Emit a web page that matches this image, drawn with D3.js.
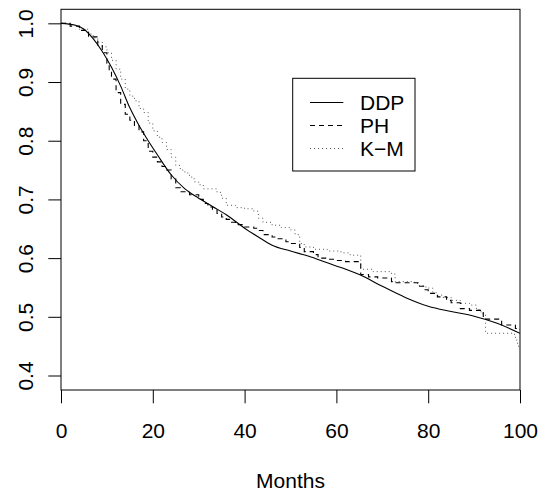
<!DOCTYPE html>
<html>
<head>
<meta charset="utf-8">
<script src="https://cdn.jsdelivr.net/npm/d3@7"></script>
<style>
  html, body { margin: 0; padding: 0; background: #fff; }
  svg { display: block; font-family: "Liberation Sans", Arial, Helvetica, sans-serif; }
</style>
</head>
<body>
<svg id="chart" width="541" height="496"></svg>
<script>
// ---- data ----
const xTicks = [0, 20, 40, 60, 80, 100];
const yTicks = [0.4, 0.5, 0.6, 0.7, 0.8, 0.9, 1.0];
const seriesNames = ["DDP", "PH", "K\u2212M"];

// DDP smooth curve (months, survival)
const ddpMonths = [0, 3, 5, 7, 9, 11, 13, 15, 17, 19, 21, 24, 27, 30, 33, 36, 40, 43, 46, 50, 54, 58, 61, 65, 70, 75, 80, 85, 90, 95, 100];
const ddpSurv   = [1.0, 0.997, 0.99, 0.974, 0.952, 0.925, 0.893, 0.856, 0.826, 0.800, 0.776, 0.742, 0.718, 0.702, 0.688, 0.674, 0.651, 0.636, 0.622, 0.612, 0.603, 0.592, 0.584, 0.572, 0.552, 0.533, 0.518, 0.509, 0.501, 0.489, 0.472];

// PH step function
const phMonths = [0, 2, 4, 6, 8, 9, 10, 10.5, 11, 12, 13, 14, 15, 16, 17, 18, 19, 20, 21, 22, 23, 24, 25, 26, 28, 30, 31, 32, 33, 34, 35, 36, 37, 38, 40, 42, 43, 44, 46, 47, 49, 50, 52, 53, 55, 56, 58, 60, 62, 65.3, 67, 69, 72, 73, 78, 79, 80, 82, 84, 85, 87, 89, 92, 96, 99, 100];
const phSurv   = [1.0, 0.995, 0.988, 0.977, 0.962, 0.950, 0.932, 0.918, 0.905, 0.882, 0.862, 0.845, 0.835, 0.826, 0.815, 0.800, 0.782, 0.772, 0.764, 0.756, 0.750, 0.735, 0.720, 0.713, 0.708, 0.700, 0.693, 0.687, 0.682, 0.676, 0.670, 0.666, 0.661, 0.657, 0.653, 0.651, 0.647, 0.640, 0.636, 0.633, 0.628, 0.625, 0.618, 0.611, 0.606, 0.600, 0.598, 0.596, 0.594, 0.572, 0.568, 0.566, 0.560, 0.558, 0.552, 0.546, 0.540, 0.534, 0.528, 0.524, 0.514, 0.511, 0.496, 0.486, 0.480, 0.478];

// Kaplan-Meier step function
const kmMonths = [0, 2, 4, 6, 7, 8, 9, 10, 11, 12, 13, 14, 15, 16, 17, 18, 19, 20, 21, 22, 23, 24, 25, 26, 27, 28, 29, 30, 31, 34, 35, 36, 38, 40, 42, 43, 44, 46, 48, 50, 51, 52, 53, 55, 58, 61, 63, 65.3, 68, 72, 72.8, 77, 78, 79.5, 81, 82, 83, 85, 87, 89, 90.5, 91.5, 92.5, 98.8, 99.3, 99.7, 100];
const kmSurv   = [1.0, 0.996, 0.990, 0.982, 0.975, 0.968, 0.960, 0.950, 0.937, 0.922, 0.905, 0.888, 0.876, 0.868, 0.855, 0.848, 0.830, 0.817, 0.806, 0.797, 0.785, 0.772, 0.758, 0.750, 0.745, 0.738, 0.730, 0.725, 0.718, 0.712, 0.702, 0.690, 0.686, 0.684, 0.680, 0.668, 0.661, 0.656, 0.652, 0.648, 0.640, 0.625, 0.619, 0.615, 0.612, 0.609, 0.605, 0.581, 0.577, 0.573, 0.560, 0.557, 0.553, 0.549, 0.541, 0.537, 0.533, 0.528, 0.523, 0.520, 0.512, 0.505, 0.472, 0.465, 0.455, 0.447, 0.447];

// ---- layout ----
const plot = { left: 61, right: 520, top: 9.3, bottom: 390 };
const yDomain = [0.3753, 1.0239];
const fontSize = 21;

const svg = d3.select("#chart");
const x = d3.scaleLinear().domain([0, 100]).range([plot.left, plot.right]);
const y = d3.scaleLinear().domain(yDomain).range([plot.bottom, plot.top]);

const zip = (a, b) => a.map((v, i) => [v, b[i]]);

const smooth = d3.line().x(d => x(d[0])).y(d => y(d[1])).curve(d3.curveMonotoneX);
const step = d3.line().x(d => x(d[0])).y(d => y(d[1])).curve(d3.curveStepAfter);

svg.append("clipPath").attr("id", "clip").append("rect")
  .attr("x", plot.left).attr("y", plot.top)
  .attr("width", plot.right - plot.left).attr("height", plot.bottom - plot.top);

const g = svg.append("g").attr("clip-path", "url(#clip)");
g.append("path").attr("d", step(zip(kmMonths, kmSurv)))
  .attr("fill", "none").attr("stroke", "#555").attr("stroke-width", 1)
  .attr("stroke-dasharray", "1,3");
g.append("path").attr("d", step(zip(phMonths, phSurv)))
  .attr("fill", "none").attr("stroke", "#000").attr("stroke-width", 1.1)
  .attr("stroke-dasharray", "5,4");
g.append("path").attr("d", smooth(zip(ddpMonths, ddpSurv)))
  .attr("fill", "none").attr("stroke", "#000").attr("stroke-width", 1.1);

// box
svg.append("rect")
  .attr("x", plot.left).attr("y", plot.top)
  .attr("width", plot.right - plot.left).attr("height", plot.bottom - plot.top)
  .attr("fill", "none").attr("stroke", "#000").attr("stroke-width", 1);

// x axis
const xAxis = svg.append("g").attr("transform", `translate(0,${plot.bottom})`)
  .call(d3.axisBottom(x).tickValues(xTicks).tickSize(13.3).tickPadding(20).tickFormat(d3.format("d")));
xAxis.select(".domain").remove();
xAxis.selectAll("line").attr("stroke", "#000");
xAxis.selectAll("text").attr("font-size", fontSize).attr("fill", "#000")
  .attr("font-family", "'Liberation Sans', Arial, sans-serif");

// y axis
const yAxis = svg.append("g").attr("transform", `translate(${plot.left},0)`)
  .call(d3.axisLeft(y).tickValues(yTicks).tickSize(12.7).tickFormat(d3.format(".1f")));
yAxis.select(".domain").remove();
yAxis.selectAll("line").attr("stroke", "#000");
yAxis.selectAll("text")
  .attr("font-size", fontSize).attr("fill", "#000")
  .attr("font-family", "'Liberation Sans', Arial, sans-serif")
  .attr("x", 0).attr("y", -28).attr("dy", null)
  .attr("text-anchor", "middle")
  .attr("transform", "rotate(-90)");

// x label
svg.append("text").attr("x", (plot.left + plot.right) / 2).attr("y", 488.3)
  .attr("text-anchor", "middle").attr("font-size", fontSize).text("Months");

// legend
const leg = { left: 292.7, top: 78.3, right: 415, bottom: 171 };
svg.append("rect").attr("x", leg.left).attr("y", leg.top)
  .attr("width", leg.right - leg.left).attr("height", leg.bottom - leg.top)
  .attr("fill", "#fff").attr("stroke", "#000").attr("stroke-width", 1);
const legRows = [
  { name: seriesNames[0], dash: null, color: "#000" },
  { name: seriesNames[1], dash: "5,4", color: "#000" },
  { name: seriesNames[2], dash: "1,3", color: "#555" }
];
const rowY = [102.5, 125.5, 148.5];
legRows.forEach((r, i) => {
  svg.append("line").attr("x1", 310).attr("x2", 343.3)
    .attr("y1", rowY[i]).attr("y2", rowY[i])
    .attr("stroke", r.color).attr("stroke-width", 1)
    .attr("stroke-dasharray", r.dash);
  svg.append("text").attr("x", 360).attr("y", rowY[i] + 7.2)
    .attr("font-size", fontSize).text(r.name);
});
</script>
</body>
</html>
